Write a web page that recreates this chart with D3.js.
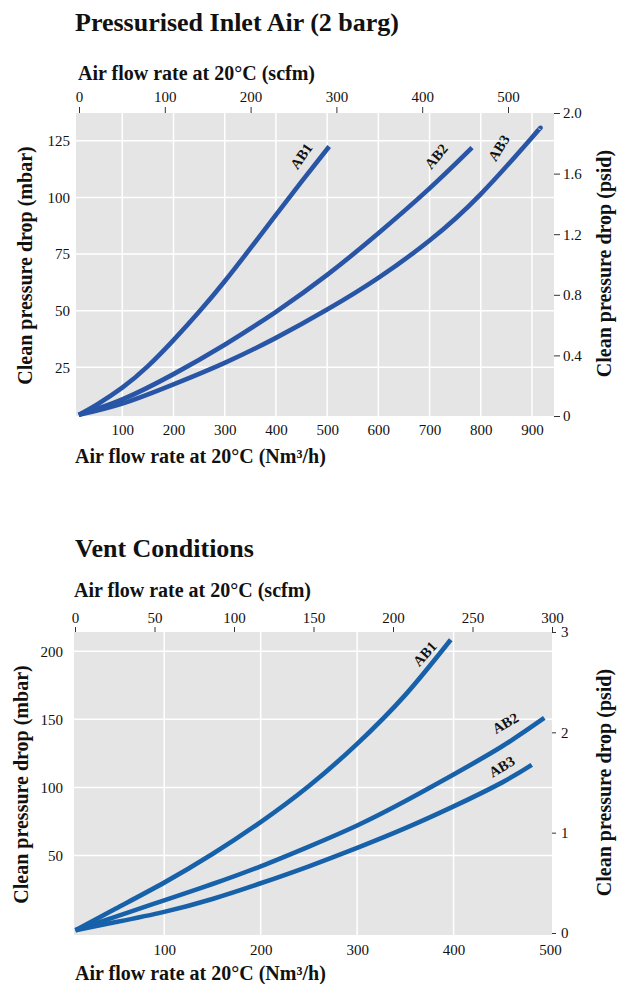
<!DOCTYPE html>
<html>
<head>
<meta charset="utf-8">
<script src="https://cdn.jsdelivr.net/npm/d3@7/dist/d3.min.js"></script>
<style>
  html, body { margin: 0; padding: 0; background: #ffffff; }
  svg { display: block; }
  text { font-family: "Liberation Serif", "Times New Roman", Times, serif; fill: #111; }
</style>
</head>
<body>
<svg id="chart" width="628" height="984"></svg>
<script>
// ---------------- DATA ----------------
// Chart 1: Pressurised Inlet Air (2 barg)  — flow (Nm3/h) vs clean pressure drop (mbar)
const inletTitle = "Pressurised Inlet Air (2 barg)";
const inletBottomTicks = [100, 200, 300, 400, 500, 600, 700, 800, 900];
const inletTopTicks = [0, 100, 200, 300, 400, 500];
const inletLeftTicks = [25, 50, 75, 100, 125];
const inletRightTicks = [0, 0.4, 0.8, 1.2, 1.6, 2.0];
const inletRightTickLabels = ["0", "0.4", "0.8", "1.2", "1.6", "2.0"];

const inletFlowAB1 = [15, 50, 100, 150, 200, 250, 300, 350, 400, 450, 504];
const inletDropAB1 = [4, 8.5, 16, 25.5, 37, 49.5, 63, 77.5, 92.3, 107, 122.5];
const inletFlowAB2 = [15, 100, 200, 300, 400, 500, 600, 700, 783];
const inletDropAB2 = [4, 10.8, 22, 35, 49.5, 65.8, 84.2, 104, 122];
const inletFlowAB3 = [15, 100, 200, 300, 400, 500, 600, 700, 800, 900, 915];
const inletDropAB3 = [4, 9, 17.5, 27, 38, 50.5, 64.5, 81, 101.5, 126.5, 130.3];

// Chart 2: Vent Conditions
const ventTitle = "Vent Conditions";
const ventBottomTicks = [100, 200, 300, 400, 500];
const ventTopTicks = [0, 50, 100, 150, 200, 250, 300];
const ventLeftTicks = [50, 100, 150, 200];
const ventRightTicks = [0, 1, 2, 3];
const ventRightTickLabels = ["0", "1", "2", "3"];

const ventFlowAB1 = [8, 50, 100, 150, 200, 250, 300, 350, 397];
const ventDropAB1 = [-5, 11, 30, 51, 74.5, 101, 132, 168, 208.5];
const ventFlowAB2 = [8, 50, 100, 150, 200, 250, 300, 350, 400, 450, 494];
const ventDropAB2 = [-5, 5, 17, 29, 42, 56.5, 72, 90, 109.5, 130, 151];
const ventFlowAB3 = [8, 50, 100, 150, 200, 250, 300, 350, 400, 450, 481];
const ventDropAB3 = [-5, 1, 8.5, 18, 29.5, 42, 55.5, 70, 86, 103.5, 116.5];

const seriesNames = ["AB1", "AB2", "AB3"];

const axisLabelTop = "Air flow rate at 20°C (scfm)";
const axisLabelBottom = "Air flow rate at 20°C (Nm³/h)";
const axisLabelLeft = "Clean pressure drop (mbar)";
const axisLabelRight = "Clean pressure drop (psid)";

// ---------------- LAYOUT / STYLE ----------------
const svg = d3.select("#chart");

const charts = [
  {
    title: inletTitle, titleY: 31,
    plot: { x0: 76, x1: 554, y0: 113, y1: 416 },
    xDomain: [9.6, 943], yDomain: [3.5, 137.3],
    topDomain: [0, 500], topRange: [79, 508],
    rightDomain: [0, 2.0], rightRange: [416, 113],
    bottomTicks: inletBottomTicks, topTicks: inletTopTicks,
    leftTicks: inletLeftTicks, rightTicks: inletRightTicks, rightLabels: inletRightTickLabels,
    series: [
      { name: seriesNames[0], x: inletFlowAB1, y: inletDropAB1, lab: [-28, 9.5], rot: -55 },
      { name: seriesNames[1], x: inletFlowAB2, y: inletDropAB2, lab: [-36, 8.5], rot: -50 },
      { name: seriesNames[2], x: inletFlowAB3, y: inletDropAB3, lab: [-41, 19], rot: -58 }
    ],
    color: "#2955a6",
    topTitleY: 80, topTitleX: 78, topTickLen: 6, topPad: 5,
    bottomPad: 8, bottomTitleY: 463, bottomTitleX: 75,
    leftPad: 6, leftTitleX: 32, rightTickLen: 6, rightPad: 3, rightTitleX: 611
  },
  {
    title: ventTitle, titleY: 557,
    plot: { x0: 74, x1: 552, y0: 632, y1: 935 },
    xDomain: [6.5, 502], yDomain: [-8.5, 214.2],
    topDomain: [0, 300], topRange: [75, 552],
    rightDomain: [0, 3], rightRange: [933, 632],
    bottomTicks: ventBottomTicks, topTicks: ventTopTicks,
    leftTicks: ventLeftTicks, rightTicks: ventRightTicks, rightLabels: ventRightTickLabels,
    series: [
      { name: seriesNames[0], x: ventFlowAB1, y: ventDropAB1, lab: [-26, 14], rot: -48 },
      { name: seriesNames[1], x: ventFlowAB2, y: ventDropAB2, lab: [-39, 5], rot: -30 },
      { name: seriesNames[2], x: ventFlowAB3, y: ventDropAB3, lab: [-30, 1.5], rot: -30 }
    ],
    color: "#1661aa",
    topTitleY: 597, topTitleX: 74, topTickLen: 5, topPad: 4,
    bottomPad: 9.5, bottomTitleY: 980, bottomTitleX: 75,
    leftPad: 11, leftTitleX: 28, rightTickLen: 4, rightPad: 5, rightTitleX: 611
  }
];

charts.forEach(c => {
  const p = c.plot;
  const x = d3.scaleLinear().domain(c.xDomain).range([p.x0, p.x1]);
  const y = d3.scaleLinear().domain(c.yDomain).range([p.y1, p.y0]);
  const xTop = d3.scaleLinear().domain(c.topDomain).range(c.topRange);
  const yRight = d3.scaleLinear().domain(c.rightDomain).range(c.rightRange);

  // title
  svg.append("text").attr("x", 75).attr("y", c.titleY)
    .attr("font-size", 26).attr("font-weight", "bold").text(c.title);

  // background
  svg.append("rect").attr("x", p.x0).attr("y", p.y0)
    .attr("width", p.x1 - p.x0).attr("height", p.y1 - p.y0).attr("fill", "#e5e5e5");

  // grid
  const g = svg.append("g");
  c.bottomTicks.filter(t => x(t) < p.x1 - 2).forEach(t => {
    g.append("line").attr("x1", x(t)).attr("x2", x(t)).attr("y1", p.y0).attr("y2", p.y1)
      .attr("stroke", "#ffffff").attr("stroke-width", 1.5);
  });
  c.leftTicks.forEach(t => {
    g.append("line").attr("x1", p.x0).attr("x2", p.x1).attr("y1", y(t)).attr("y2", y(t))
      .attr("stroke", "#ffffff").attr("stroke-width", 1.5);
  });

  // axes
  const axB = svg.append("g").attr("transform", `translate(0,${p.y1})`)
    .call(d3.axisBottom(x).tickValues(c.bottomTicks).tickSize(0).tickPadding(c.bottomPad));
  const axT = svg.append("g").attr("transform", `translate(0,${p.y0})`)
    .call(d3.axisTop(xTop).tickValues(c.topTicks).tickSize(c.topTickLen).tickPadding(c.topPad));
  const axL = svg.append("g").attr("transform", `translate(${p.x0},0)`)
    .call(d3.axisLeft(y).tickValues(c.leftTicks).tickSize(0).tickPadding(c.leftPad));
  const axR = svg.append("g").attr("transform", `translate(${p.x1},0)`)
    .call(d3.axisRight(yRight).tickValues(c.rightTicks).tickSize(c.rightTickLen).tickPadding(c.rightPad)
      .tickFormat((d, i) => c.rightLabels[i]));
  [axB, axT, axL, axR].forEach(a => {
    a.select(".domain").remove();
    a.selectAll("text").attr("font-size", 15)
      .attr("font-family", '"Liberation Serif", "Times New Roman", serif').attr("fill", "#222");
    a.selectAll("line").attr("stroke", "#333").attr("stroke-width", 1);
  });

  // axis titles
  svg.append("text").attr("x", c.topTitleX).attr("y", c.topTitleY)
    .attr("font-size", 20).attr("font-weight", "bold").text(axisLabelTop);
  svg.append("text").attr("x", c.bottomTitleX).attr("y", c.bottomTitleY)
    .attr("font-size", 20).attr("font-weight", "bold").text(axisLabelBottom);
  const cy = (p.y0 + p.y1) / 2 + 1;
  svg.append("text").attr("transform", `translate(${c.leftTitleX},${cy}) rotate(-90)`)
    .attr("text-anchor", "middle").attr("font-size", 20).attr("font-weight", "bold").text(axisLabelLeft);
  svg.append("text").attr("transform", `translate(${c.rightTitleX},${cy - 2}) rotate(-90)`)
    .attr("text-anchor", "middle").attr("font-size", 20).attr("font-weight", "bold").text(axisLabelRight);

  // lines
  const line = d3.line().curve(d3.curveNatural).x(d => x(d[0])).y(d => y(d[1]));
  c.series.forEach(s => {
    const pts = s.x.map((v, i) => [v, s.y[i]]);
    svg.append("path").datum(pts).attr("d", line)
      .attr("fill", "none").attr("stroke", c.color).attr("stroke-width", 4.6)
      .attr("stroke-linecap", "butt").attr("stroke-linejoin", "round");
    const last = pts[pts.length - 1];
    const lx = x(last[0]) + s.lab[0], ly = y(last[1]) + s.lab[1];
    svg.append("text").attr("transform", `translate(${lx},${ly}) rotate(${s.rot})`)
      .attr("text-anchor", "middle").attr("dy", "0.35em")
      .attr("font-size", 14.5).attr("font-weight", "bold").text(s.name);
  });
});
</script>
</body>
</html>
